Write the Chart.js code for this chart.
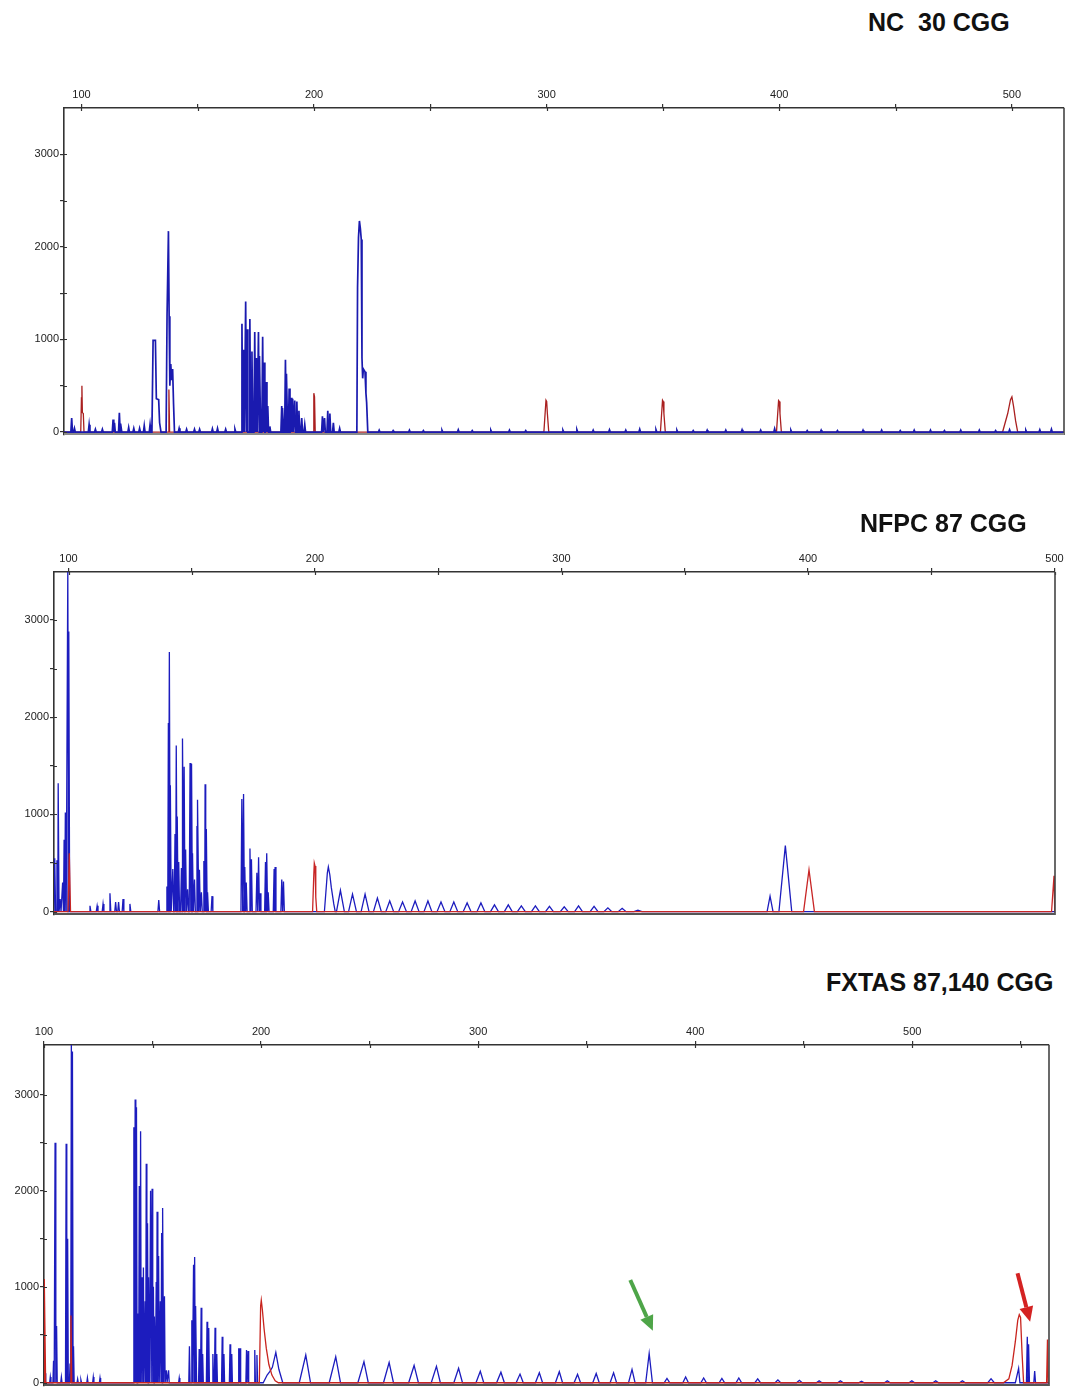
<!DOCTYPE html>
<html>
<head>
<meta charset="utf-8">
<script src="https://cdn.jsdelivr.net/npm/chart.js@4.4.1/dist/chart.umd.min.js"></script>
<style>
  html, body { margin: 0; padding: 0; background: #fff; }
  body { width: 1067px; height: 1388px; position: relative; overflow: hidden;
         font-family: "Liberation Sans", Arial, sans-serif; }
  .title { position: absolute; font-weight: bold; font-size: 25px; line-height: 1;
           color: #111; white-space: pre; z-index: 2; }
  canvas.panel { position: absolute; left: 0; z-index: 1; }
</style>
</head>
<body>
<div class="title" style="left:868px; top:10px;">NC  30 CGG</div>
<div class="title" style="left:860px; top:511px;">NFPC 87 CGG</div>
<div class="title" style="left:826px; top:970px;">FXTAS 87,140 CGG</div>

<canvas id="nc" class="panel" width="1067" height="371" style="top:68px;"></canvas>
<canvas id="nfpc" class="panel" width="1067" height="387" style="top:532px;"></canvas>
<canvas id="fxtas" class="panel" width="1067" height="383" style="top:1005px;"></canvas>

<script>
// ---------------------------------------------------------------
// Tick labels
// ---------------------------------------------------------------
const sizeTicksNC    = [100, 150, 200, 250, 300, 350, 400, 450, 500];
const sizeTicksNFPC  = [100, 150, 200, 250, 300, 350, 400, 450, 500];
const sizeTicksFXTAS = [100, 150, 200, 250, 300, 350, 400, 450, 500, 550];
const rfuTicks       = [0, 500, 1000, 1500, 2000, 2500, 3000];

// ---------------------------------------------------------------
// Electropherogram peaks.
// A peak is [size (bp), height (RFU), left half-width, right half-width];
// a nested list of [size, RFU] pairs is a traced peak profile.
// ---------------------------------------------------------------

// NC 30 CGG — FAM (blue) sample trace
const ncBlue = [
  [95.8, 150], [97.0, 40], [103.3, 80], [106.0, 30], [109.0, 30],
  [113.6, 136], [114.2, 100], [116.3, 208], [117.0, 90], [120.3, 50],
  [122.5, 40], [125.0, 40], [127.0, 70], [129.5, 80],
  [[130.3, 0], [130.8, 990], [131.8, 990], [132.2, 360], [133.2, 350], [133.6, 100], [134.2, 0]],
  [[136.4, 0], [136.8, 1250], [137.2, 1250], [137.4, 2170], [137.7, 1250], [138.0, 500],
   [138.4, 735], [138.8, 560], [139.2, 680], [139.6, 300], [140.0, 0]],
  [142.0, 40], [145.2, 30], [148.6, 30], [150.8, 30], [156.3, 35], [158.5, 40], [162.0, 30], [166.0, 30],
  [169.0, 1170], [169.7, 890], [170.6, 1410], [171.2, 1110], [172.4, 1220], [173.3, 870],
  [174.5, 1080], [175.2, 800], [176.1, 1080], [176.7, 820], [177.9, 1030], [178.5, 750],
  [179.4, 540], [180.1, 280], [181.0, 60],
  [186.1, 280], [186.6, 260], [187.7, 780], [188.3, 630], [189.3, 470], [190.1, 370],
  [190.8, 360], [191.7, 340], [192.6, 330], [193.5, 230], [194.7, 150], [196.0, 80],
  [203.6, 170], [204.5, 150], [205.9, 230], [206.8, 200], [208.3, 100], [211.0, 40],
  [[218.4, 0], [218.7, 1560], [219.1, 2100], [219.5, 2280], [219.9, 2200], [220.3, 2080],
   [220.6, 800], [220.9, 580], [221.2, 680], [221.9, 650], [222.3, 420], [222.6, 320], [223.1, 0]],
  [228, 20], [234, 15], [241, 20], [247, 15], [255, 20], [262, 25], [268, 15], [276, 20],
  [284, 20], [291, 15], [307, 20], [313, 25], [320, 20], [327, 25], [334, 20], [340, 30],
  [347, 25], [356, 20], [363, 15], [369, 20], [377, 20], [384, 25], [392, 20], [398, 35],
  [405, 20], [412, 15], [418, 20], [425, 15], [436, 20], [444, 20], [452, 15], [458, 20],
  [465, 20], [471, 15], [478, 20], [486, 20], [493, 15], [499, 25], [506, 20], [512, 25], [517, 30]
];
// NC 30 CGG — ROX (red) size standard
const ncRed = [
  [[99.7, 0], [100.0, 370], [100.2, 500], [100.4, 210], [100.8, 200], [101.1, 0]],
  [137.6, 460, 0.3],
  [[199.6, 0], [199.9, 420], [200.2, 380], [200.5, 0]],
  [[298.8, 0], [299.7, 344], [300.0, 330], [300.3, 200], [300.9, 0]],
  [[348.9, 0], [349.8, 344], [350.1, 330], [350.4, 200], [351.0, 0]],
  [[398.8, 0], [399.7, 340], [400.0, 330], [400.3, 200], [400.9, 0]],
  [[496.0, 0], [498.2, 200], [499.4, 350], [500.0, 380], [500.7, 280], [501.6, 120], [502.5, 0]]
];

// NFPC 87 CGG — FAM (blue) sample trace
const nfpcBlue = [
  [94.4, 550], [95.3, 530], [95.8, 1320], [96.6, 130], [97.6, 300], [98.2, 740],
  [98.7, 1020], [99.7, 3520], [100.1, 2880],
  [108.7, 60], [111.6, 60], [114.0, 80], [116.8, 190], [119.1, 100], [120.3, 100],
  [122.1, 130], [124.9, 80], [136.6, 120],
  [139.9, 260], [140.5, 1940], [140.9, 2670], [141.3, 1300], [142.3, 440], [143.2, 800],
  [143.7, 1710], [144.1, 980], [144.7, 510], [145.8, 450], [146.4, 1780], [146.9, 1490],
  [147.5, 640], [148.3, 230], [149.3, 1530], [149.9, 1520], [150.3, 600], [151.1, 330],
  [152.1, 880], [152.5, 1150], [153.1, 430], [153.9, 200], [154.9, 520], [155.4, 1310],
  [155.9, 850], [156.4, 200], [158.2, 160],
  [170.3, 1160], [171.0, 1210], [171.5, 460], [172.1, 300], [173.6, 650], [174.2, 540],
  [176.4, 400], [177.1, 560], [177.7, 190], [179.9, 510], [180.4, 600], [181.0, 200],
  [183.4, 440], [183.8, 460], [186.5, 330], [187.2, 310],
  [[203.8, 0], [205.0, 400], [205.4, 460], [206.0, 380], [206.6, 250], [207.6, 80], [208.2, 0]],
  [210.3, 220, 1.6], [215.2, 180, 1.6], [220.3, 180, 1.6], [225.3, 140, 1.6], [230.3, 110, 1.6],
  [235.5, 100, 1.6], [240.6, 110, 1.6], [245.8, 110, 1.6], [251.1, 100, 1.6], [256.3, 100, 1.6],
  [261.7, 90, 1.6], [267.3, 90, 1.6], [272.8, 70, 1.6], [278.4, 70, 1.6], [283.7, 60, 1.6],
  [289.4, 60, 1.6], [295.1, 55, 1.6], [301.1, 50, 1.6], [306.9, 60, 1.6], [313.2, 55, 1.6],
  [318.8, 40, 1.6], [324.6, 35, 1.6], [331.0, 15, 1.6],
  [384.6, 160, 1.2], [390.8, 680, 2.6]
];
// NFPC 87 CGG — ROX (red) size standard
const nfpcRed = [
  [100.3, 600, 0.5],
  [[199.0, 0], [199.5, 380], [199.7, 500], [200.0, 470], [200.3, 150], [200.7, 0]],
  [400.4, 430, 2.2],
  [499.8, 370, 1.0, 0.3]
];

// FXTAS 87,140 CGG — FAM (blue) sample trace
const fxtasBlue = [
  [100.5, 100], [102.9, 60], [104.4, 230], [105.1, 2500], [105.8, 590], [108.0, 60],
  [110.2, 2490], [110.9, 1500], [112.0, 200], [112.6, 3600], [113.1, 3450], [113.6, 380],
  [115.5, 40], [117.0, 30], [120.0, 50], [122.7, 60], [125.8, 50],
  [141.4, 2660], [142.0, 2950], [142.6, 2870], [143.3, 720],
  [143.9, 2050], [144.5, 2620], [145.2, 1100], [145.8, 1200],
  [146.6, 850], [147.1, 2280], [147.7, 1660], [148.3, 1100],
  [149.1, 2000], [149.8, 2020], [150.4, 1000], [151.0, 690],
  [151.7, 1050], [152.1, 1780], [152.8, 1320], [153.6, 850],
  [154.2, 1560], [154.8, 1820], [155.5, 900], [156.4, 130], [157.4, 130],
  [162.3, 50], [167.0, 380],
  [168.1, 650], [168.9, 1230], [169.4, 1310], [170.0, 800],
  [171.5, 350], [172.4, 780], [173.1, 300], [175.1, 635],
  [175.9, 570], [177.8, 300], [178.8, 573], [179.6, 300],
  [182.1, 480], [182.9, 300], [185.7, 400], [186.5, 300],
  [189.7, 360], [190.3, 360], [193.3, 340], [194.0, 330],
  [197.1, 340], [198.1, 290],
  [[201.0, 0], [202.8, 80], [204.0, 115], [205.2, 160], [206.8, 316], [208.2, 140], [210.0, 0]],
  [220.6, 288, 3.0, 2.2], [234.4, 271, 3.0, 2.2], [247.4, 220, 2.8, 2.0], [259.0, 210, 2.6, 2.0],
  [270.5, 180, 2.5, 2.0], [280.8, 170, 2.4, 1.8], [291.0, 150, 2.2, 1.8], [301.0, 120, 2.0, 1.6],
  [310.5, 110, 2.0, 1.6], [319.3, 90, 1.8, 1.5], [328.2, 104, 1.8, 1.5], [337.4, 115, 1.8, 1.5],
  [345.8, 87, 1.6, 1.4], [354.4, 97, 1.6, 1.4], [362.4, 104, 1.6, 1.4], [370.9, 139, 1.6, 1.4],
  [378.8, 306, 1.6, 1.5], [387.0, 45, 1.3], [395.6, 59, 1.3], [403.9, 50, 1.3], [412.3, 45, 1.3],
  [420.1, 50, 1.3], [428.8, 40, 1.3], [438.1, 30, 1.3], [448.0, 25, 1.3], [457.1, 20, 1.3],
  [466.9, 20, 1.3], [476.6, 15, 1.3], [488.5, 20, 1.3], [499.8, 20, 1.3], [510.8, 20, 1.3],
  [523.1, 20, 1.3], [536.3, 42, 1.5],
  [549.0, 150, 1.5, 0.6], [553.0, 480, 0.4], [553.6, 400, 0.4], [556.4, 121, 0.4]
];
// FXTAS 87,140 CGG — ROX (red) size standard
const fxtasRed = [
  [100.25, 1080, 0.25, 0.5],
  [112.4, 700, 0.4],
  [[199.2, 0], [199.8, 800], [200.1, 860], [200.6, 760], [201.4, 560], [202.4, 360],
   [203.6, 190], [205.0, 80], [206.5, 20], [208.0, 0]],
  [[542.0, 0], [544.5, 40], [546.0, 180], [547.5, 430], [548.6, 650], [549.3, 710],
   [549.9, 680], [550.6, 300], [551.3, 0]],
  [562.3, 450, 0.4, 0.3]
];

// Arrows marking the expanded alleles: tail and tip as [size, RFU]
const fxtasArrows = [
  { from: [370.1, 1070], to: [380.5, 542], color: '#4ea548' },
  { from: [548.5, 1140], to: [554.3, 635], color: '#d42222' }
];

// ---------------------------------------------------------------
// Build the trace polyline from a peak list
// ---------------------------------------------------------------
function buildTrace(peaks, xmin, xmax, defaultHalfWidth) {
  const pts = [{ x: xmin, y: 0 }];
  for (const p of peaks) {
    if (Array.isArray(p[0])) {
      for (const q of p) pts.push({ x: q[0], y: q[1] });
      continue;
    }
    const s = p[0], h = p[1];
    const wl = p.length > 2 ? p[2] : defaultHalfWidth;
    const wr = p.length > 3 ? p[3] : wl;
    pts.push({ x: s - wl, y: 0 }, { x: s, y: h }, { x: s + wr, y: 0 });
  }
  pts.push({ x: xmax, y: 0 });
  return pts;
}

// Tick marks that cross into the plot, plus the right and bottom frame lines
const framePlugin = {
  id: 'frame',
  afterDraw(chart, args, opts) {
    const { ctx, chartArea: a, scales } = chart;
    ctx.save();
    ctx.strokeStyle = '#333';
    ctx.lineWidth = 1.2;
    ctx.beginPath();
    for (const t of scales.x.ticks) {
      const px = Math.round(scales.x.getPixelForValue(t.value)) + 0.5;
      ctx.moveTo(px, a.top); ctx.lineTo(px, a.top + 3);
    }
    for (const t of scales.y.ticks) {
      const py = Math.round(scales.y.getPixelForValue(t.value)) + 0.5;
      ctx.moveTo(a.left, py); ctx.lineTo(a.left + 3, py);
    }
    ctx.stroke();
    // right edge
    ctx.strokeStyle = '#444';
    ctx.lineWidth = 1.6;
    ctx.beginPath();
    ctx.moveTo(a.right, a.top); ctx.lineTo(a.right, a.bottom);
    ctx.stroke();
    // bottom edge
    ctx.strokeStyle = opts.bottomColor || '#777';
    ctx.lineWidth = 2;
    ctx.beginPath();
    ctx.moveTo(a.left, a.bottom - 1); ctx.lineTo(a.right, a.bottom - 1);
    ctx.stroke();
    ctx.restore();
  }
};

// Annotation arrows given in data coordinates
const arrowPlugin = {
  id: 'arrows',
  afterDatasetsDraw(chart, args, opts) {
    const list = opts.items || [];
    const { ctx, scales } = chart;
    for (const ar of list) {
      const x0 = scales.x.getPixelForValue(ar.from[0]);
      const y0 = scales.y.getPixelForValue(ar.from[1]);
      const x1 = scales.x.getPixelForValue(ar.to[0]);
      const y1 = scales.y.getPixelForValue(ar.to[1]);
      const ang = Math.atan2(y1 - y0, x1 - x0);
      const headLen = 15, headHalf = 7;
      const bx = x1 - headLen * Math.cos(ang), by = y1 - headLen * Math.sin(ang);
      ctx.save();
      ctx.strokeStyle = ar.color;
      ctx.fillStyle = ar.color;
      ctx.lineWidth = 4;
      ctx.beginPath();
      ctx.moveTo(x0, y0); ctx.lineTo(bx, by);
      ctx.stroke();
      ctx.beginPath();
      ctx.moveTo(x1, y1);
      ctx.lineTo(bx + headHalf * Math.sin(ang), by - headHalf * Math.cos(ang));
      ctx.lineTo(bx - headHalf * Math.sin(ang), by + headHalf * Math.cos(ang));
      ctx.closePath();
      ctx.fill();
      ctx.restore();
    }
  }
};

const tickFont = { family: '"Liberation Sans", Arial, sans-serif', size: 11 };

function makePanel(id, cfg) {
  const datasets = cfg.traces.map(tr => ({
    data: buildTrace(tr.peaks, cfg.xmin, cfg.xmax, tr.halfWidth),
    borderColor: tr.color,
    borderWidth: tr.width,
    pointRadius: 0,
    tension: 0,
    fill: false
  }));
  return new Chart(document.getElementById(id), {
    type: 'line',
    data: { datasets },
    plugins: [framePlugin, arrowPlugin],
    options: {
      responsive: false,
      animation: false,
      devicePixelRatio: 1,
      events: [],
      layout: { padding: { left: 0, top: 0, right: cfg.padRight, bottom: cfg.padBottom } },
      plugins: {
        legend: { display: false },
        tooltip: { enabled: false },
        frame: { bottomColor: cfg.bottomColor },
        arrows: { items: cfg.arrows || [] }
      },
      scales: {
        x: {
          type: 'linear',
          position: 'top',
          min: cfg.xmin,
          max: cfg.xmax,
          afterBuildTicks: axis => { axis.ticks = cfg.sizeTicks.map(v => ({ value: v })); },
          afterFit: axis => {
            axis.height = 40;
            axis.paddingLeft = 0; axis.paddingRight = 0;
            axis.paddingTop = 0; axis.paddingBottom = 0;
          },
          ticks: {
            autoSkip: false, maxRotation: 0, padding: 2, color: '#222', font: tickFont,
            callback: v => (v % 100 === 0 ? String(v) : '')
          },
          grid: { display: true, drawOnChartArea: false, drawTicks: true, tickLength: 4,
                  color: '#333', lineWidth: 1.2 },
          border: { display: true, color: '#333', width: 1.6 }
        },
        y: {
          type: 'linear',
          position: 'left',
          min: cfg.ymin,
          max: cfg.ymax,
          afterBuildTicks: axis => { axis.ticks = rfuTicks.map(v => ({ value: v })); },
          afterFit: axis => {
            axis.width = cfg.axisLeft;
            axis.paddingLeft = 0; axis.paddingRight = 0;
            axis.paddingTop = 0; axis.paddingBottom = 0;
          },
          ticks: {
            autoSkip: false, padding: 1, color: '#222', font: tickFont,
            callback: v => (v % 1000 === 0 ? String(v) : '')
          },
          grid: { display: true, drawOnChartArea: false, drawTicks: true, tickLength: 4,
                  color: '#333', lineWidth: 1.2 },
          border: { display: true, color: '#333', width: 1.6 }
        }
      }
    }
  });
}

const BLUE = 'rgb(28,28,190)';

makePanel('nc', {
  xmin: 92.5, xmax: 522.4, ymin: -32, ymax: 3500,
  axisLeft: 64, padRight: 3, padBottom: 4, bottomColor: '#8a8a8a',
  sizeTicks: sizeTicksNC,
  traces: [
    { peaks: ncBlue, color: 'rgb(26,26,175)', width: 1.7, halfWidth: 0.35 },
    { peaks: ncRed, color: 'rgb(170,32,32)', width: 1.3, halfWidth: 0.4 }
  ]
});

makePanel('nfpc', {
  xmin: 94.1, xmax: 500.2, ymin: -34, ymax: 3493,
  axisLeft: 54, padRight: 12, padBottom: 4, bottomColor: '#555',
  sizeTicks: sizeTicksNFPC,
  traces: [
    { peaks: nfpcRed, color: 'rgb(200,38,38)', width: 1.3, halfWidth: 0.5 },
    { peaks: nfpcBlue, color: BLUE, width: 1.3, halfWidth: 0.35 }
  ]
});

makePanel('fxtas', {
  xmin: 100, xmax: 563, ymin: -34, ymax: 3518,
  axisLeft: 44, padRight: 18, padBottom: 2, bottomColor: '#555',
  sizeTicks: sizeTicksFXTAS,
  arrows: fxtasArrows,
  traces: [
    { peaks: fxtasRed, color: 'rgb(200,36,30)', width: 1.3, halfWidth: 0.4 },
    { peaks: fxtasBlue, color: BLUE, width: 1.3, halfWidth: 0.3 }
  ]
});
</script>
</body>
</html>
